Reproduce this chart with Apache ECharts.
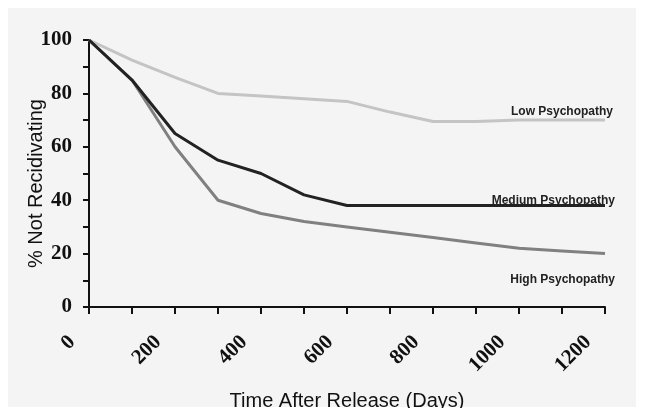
<!DOCTYPE html>
<html>
<head>
<meta charset="utf-8">
<script src="https://cdn.jsdelivr.net/npm/echarts@6/dist/echarts.min.js"></script>
<style>html,body{margin:0;padding:0;background:#fff}#c{width:645px;height:416px}</style>
</head>
<body>
<div id="c"></div>
<script>
var days = [0, 100, 200, 300, 400, 500, 600, 700, 800, 900, 1000, 1100, 1200];
var lowPsy = [100, 92.5, 86, 80, 79, 78, 77, 73, 69.5, 69.5, 70, 70, 70];
var medPsy = [100, 85, 65, 55, 50, 42, 38, 38, 38, 38, 38, 38, 38];
var highPsy = [100, 85, 60, 40, 35, 32, 30, 28, 26, 24, 22, 21, 20];
var seriesNames = ['Low Psychopathy', 'Medium Psychopathy', 'High Psychopathy'];
var xTitle = 'Time After Release (Days)';
var yTitle = '% Not Recidivating';

function pairs(ys) { return days.map(function (d, i) { return [d, ys[i]]; }); }

var chart = echarts.init(document.getElementById('c'), null, {renderer: 'canvas'});
var tickFont = {fontFamily: 'Liberation Serif', fontWeight: 'bold', fontSize: 21, color: '#111'};
var endLbl = function (off) {
  return {show: true, formatter: '{a}', fontFamily: 'Liberation Sans', fontWeight: 'bold',
    fontSize: 12, color: '#222', align: 'right', verticalAlign: 'middle', offset: off};
};
chart.setOption({
  backgroundColor: '#ffffff',
  animation: false,
  graphic: [
    {type: 'rect', z: -10, shape: {x: 8, y: 8, width: 628, height: 399}, style: {fill: '#f4f4f4'}},
    {type: 'rect', z: 100, shape: {x: 0, y: 408, width: 645, height: 8}, style: {fill: '#ffffff'}}
  ],
  grid: {left: 89, right: 40, top: 40, bottom: 108.7, containLabel: false},
  xAxis: {
    type: 'value', min: 0, max: 1200, interval: 100,
    name: xTitle, nameLocation: 'middle', nameGap: 84, nameMoveOverlap: false,
    nameTextStyle: {fontFamily: 'Liberation Sans', fontSize: 20, color: '#111', verticalAlign: 'top'},
    axisLine: {show: true, onZero: false, lineStyle: {color: '#111', width: 2}},
    axisTick: {show: true, length: 7, lineStyle: {color: '#111', width: 2}},
    splitLine: {show: false},
    axisLabel: Object.assign({
      rotate: 45, margin: 15, padding: [0, 24, 0, 0],
      formatter: function (v) { return v % 200 === 0 ? String(v) : ''; }
    }, tickFont)
  },
  yAxis: {
    type: 'value', min: 0, max: 100, interval: 10,
    name: yTitle, nameLocation: 'middle', nameGap: 43, nameMoveOverlap: false,
    nameTextStyle: {fontFamily: 'Liberation Sans', fontSize: 20, color: '#111', padding: [0, 20, 0, 0]},
    axisLine: {show: true, lineStyle: {color: '#111', width: 2}},
    axisTick: {show: true, length: 6, lineStyle: {color: '#111', width: 2}},
    splitLine: {show: false},
    axisLabel: Object.assign({
      margin: 17,
      formatter: function (v) { return v % 20 === 0 ? String(v) : ''; }
    }, tickFont)
  },
  series: [
    {name: seriesNames[0], type: 'line', data: pairs(lowPsy), showSymbol: false, symbol: 'none',
      lineStyle: {color: '#c4c4c4', width: 3}, endLabel: endLbl([0, -8]), z: 2},
    {name: seriesNames[1], type: 'line', data: pairs(medPsy), showSymbol: false, symbol: 'none',
      lineStyle: {color: '#222222', width: 3}, endLabel: endLbl([2, -5]), z: 4},
    {name: seriesNames[2], type: 'line', data: pairs(highPsy), showSymbol: false, symbol: 'none',
      lineStyle: {color: '#808080', width: 3}, endLabel: endLbl([2, 26]), z: 3}
  ]
});
</script>
</body>
</html>
